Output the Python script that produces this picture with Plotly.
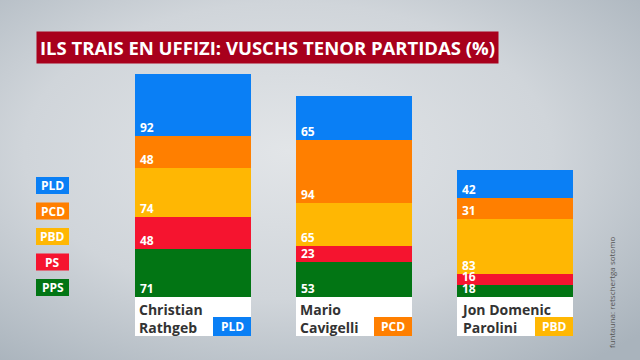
import base64
import numpy as np
import plotly.graph_objects as go

candidates = ["Christian<br>Rathgeb", "Mario<br>Cavigelli", "Jon Domenic<br>Parolini"]
candidate_party = ["PLD", "PCD", "PBD"]
parties = ["PPS", "PS", "PBD", "PCD", "PLD"]  # bottom to top
votes = {
    "PPS": [71, 53, 18],
    "PS": [48, 23, 16],
    "PBD": [74, 65, 83],
    "PCD": [48, 94, 31],
    "PLD": [92, 65, 42],
}
legend_order = ["PLD", "PCD", "PBD", "PS", "PPS"]
colors = {
    "PLD": "#0a7ff5",
    "PCD": "#ff7f00",
    "PBD": "#ffb703",
    "PS": "#f5142f",
    "PPS": "#027514",
}
title = "ILS TRAIS EN UFFIZI: VUSCHS TENOR PARTIDAS (%)"
source = "funtauna: retschertga sotomo"

W, H = 640, 360
base_px = 297          # pixel row of bar base
px_per_unit = 223 / 333
x0_px, step_px = 193, 161
bar_w = 116 / step_px

xs = list(range(len(candidates)))
fig = go.Figure()
for p in parties:
    fig.add_trace(go.Bar(x=xs, y=votes[p], marker=dict(color=colors[p], line=dict(width=0)),
                         width=bar_w, showlegend=False, hoverinfo="skip"))

# value labels at bottom-left of each segment
cum = np.zeros(len(xs))
for p in parties:
    for i in xs:
        fig.add_annotation(x=i - bar_w / 2, y=cum[i], xref="x", yref="y", text=f"<b>{votes[p][i]}</b>",
                           showarrow=False, xanchor="left", yanchor="bottom", xshift=3, yshift=-2,
                           font=dict(family="Open Sans", size=12, color="white"))
    cum += np.array(votes[p])

def py(pix):
    return 1 - pix / H

# name boxes
for i in xs:
    fig.add_shape(type="rect", xref="x", yref="paper", x0=i - bar_w / 2, x1=i + bar_w / 2,
                  y0=py(336), y1=py(base_px), fillcolor="white", line=dict(width=0))
    fig.add_annotation(x=i - bar_w / 2, y=py(297.5), xref="x", yref="paper", text=f"<b>{candidates[i]}</b>",
                       showarrow=False, xanchor="left", yanchor="top", align="left", xshift=2,
                       font=dict(family="Open Sans", size=14, color="#333333"))
    tag_w = 38 / step_px
    fig.add_shape(type="rect", xref="x", yref="paper", x0=i + bar_w / 2 - tag_w, x1=i + bar_w / 2,
                  y0=py(336), y1=py(317), fillcolor=colors[candidate_party[i]], line=dict(width=0))
    fig.add_annotation(x=i + bar_w / 2 - tag_w / 2, y=py(326.5), xref="x", yref="paper",
                       text=f"<b>{candidate_party[i]}</b>", showarrow=False,
                       xanchor="center", yanchor="middle",
                       font=dict(family="Open Sans", size=12, color="white"))

# legend boxes
for k, p in enumerate(legend_order):
    top = 177 + k * 25.5
    fig.add_shape(type="rect", xref="paper", yref="paper", x0=36 / W, x1=69 / W,
                  y0=py(top + 17), y1=py(top), fillcolor=colors[p], line=dict(width=0))
    fig.add_annotation(x=52.5 / W, y=py(top + 8.5), xref="paper", yref="paper", text=f"<b>{p}</b>",
                       showarrow=False, xanchor="center", yanchor="middle",
                       font=dict(family="Open Sans", size=12, color="white"))

# title
fig.add_annotation(x=36 / W, y=py(48), xref="paper", yref="paper", text=f"<b>{title}</b>",
                   showarrow=False, xanchor="left", yanchor="middle", bgcolor="#a8001c",
                   borderpad=3, font=dict(family="Open Sans", size=18.5, color="white"))

# source
fig.add_annotation(x=611 / W, y=py(292), xref="paper", yref="paper", text=source, textangle=-90,
                   showarrow=False, xanchor="center", yanchor="middle",
                   font=dict(family="Open Sans", size=8, color="#555555"))

svg = (
    '<svg xmlns="http://www.w3.org/2000/svg" width="640" height="360" viewBox="0 0 640 360" preserveAspectRatio="none">'
    '<defs><radialGradient id="g" cx="45%" cy="42%" r="75%">'
    '<stop offset="0%" stop-color="#e2e5e8"/><stop offset="55%" stop-color="#d0d5da"/>'
    '<stop offset="100%" stop-color="#a9b3bc"/></radialGradient></defs>'
    '<rect width="640" height="360" fill="url(#g)"/></svg>'
)
src = "data:image/svg+xml;base64," + base64.b64encode(svg.encode()).decode()
fig.add_layout_image(source=src, xref="paper", yref="paper", x=0, y=1, sizex=1, sizey=1,
                     sizing="stretch", layer="below", xanchor="left", yanchor="top")

fig.update_layout(
    width=W, height=H, autosize=False, barmode="stack", bargap=0,
    margin=dict(l=0, r=0, t=0, b=0),
    paper_bgcolor="#d3d8dc", plot_bgcolor="rgba(0,0,0,0)",
    xaxis=dict(range=[-x0_px / step_px, (W - x0_px) / step_px], visible=False, fixedrange=True),
    yaxis=dict(range=[-(H - base_px) / px_per_unit, base_px / px_per_unit], visible=False, fixedrange=True),
)
fig.write_html("out.html")
